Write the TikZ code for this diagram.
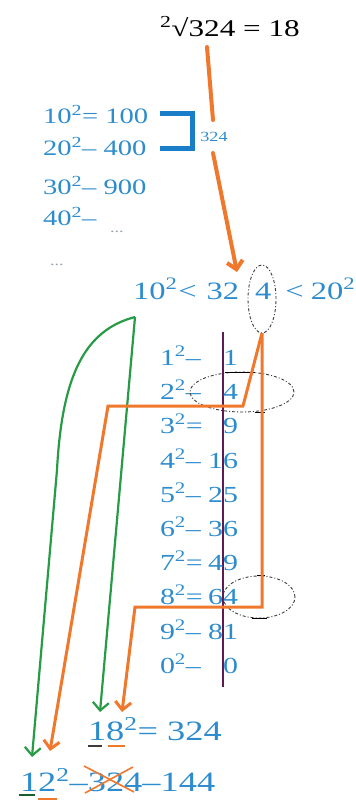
\documentclass[tikz,border=0pt]{standalone}
\usepackage{fontspec}
\setmainfont[FakeStretch=1.3]{Liberation Serif}
\usetikzlibrary{arrows.meta,shapes.geometric}
\definecolor{tblue}{RGB}{45,140,205}
\definecolor{bblue}{RGB}{25,125,200}
\definecolor{orng}{RGB}{240,120,45}
\definecolor{grn}{RGB}{40,155,70}
\definecolor{purp}{RGB}{95,25,85}
\definecolor{dgray}{RGB}{60,60,60}
\definecolor{ltgray}{RGB}{150,160,170}
\begin{document}
\begin{tikzpicture}[x=1pt,y=-1pt,
  every node/.style={inner sep=0pt,outer sep=0pt},
  toptxt/.style={anchor=base west,text=black,font=\fontsize{24}{26}\selectfont},
  lst/.style={anchor=base west,text=tblue,font=\fontsize{22}{24}\selectfont},
  ineqtxt/.style={anchor=base west,text=tblue,font=\fontsize{25}{27}\selectfont},
  tbl/.style={text=tblue,font=\fontsize{23}{25}\selectfont},
  bot/.style={anchor=base west,text=tblue,font=\fontsize{28}{30}\selectfont},
  ell/.style={draw=dgray,ellipse,line width=0.9pt,dash pattern=on 3pt off 2pt on 1pt off 2pt},
  tick/.style={draw=black,line width=1pt},
  ornline/.style={draw=orng,line width=3pt,line cap=round},
  grnline/.style={draw=grn,line width=2.2pt},
  barb/.style={-{Straight Barb[length=8pt,width=16pt]}},
]
\useasboundingbox (0,0) rectangle (356,801);

% top equation
\node[toptxt] (top) at (160,36.5) {\textsuperscript{2}√324 = 18};

% list of squares
\node[lst] (b1) at (43,123) {10\textsuperscript{2}= 100};
\node[lst] (b2) at (43,155) {20\textsuperscript{2}– 400};
\node[lst] (b3) at (43,194) {30\textsuperscript{2}– 900};
\node[lst] (b4) at (43,225) {40\textsuperscript{2}–};
\node[anchor=base west,text=ltgray,font=\fontsize{14}{14}\selectfont] (d1) at (110,232) {...};
\node[anchor=base west,text=ltgray,font=\fontsize{14}{14}\selectfont] (d2) at (50,265) {...};
\draw[draw=bblue,line width=5pt] (160,113) -- (192,113) -- (192,148) -- (160,148);
\node[text=tblue,font=\fontsize{14}{14}\selectfont] (l324) at (214,137) {324};

% top orange arrow
\coordinate (a1) at (207,47);
\coordinate (a2) at (213,120);
\coordinate (a3) at (213,153);
\coordinate (t1) at (237,272);
\draw[ornline,line width=4pt] (a1) -- (a2);
\draw[ornline,line width=4pt,barb] (a3) -- (t1);

% inequality
\node[ineqtxt] (ineq) at (133,299) {10\textsuperscript{2}\hspace{1pt}<\hspace{10pt}32\hspace{16pt}4\hspace{14pt}<\hspace{7pt}20\textsuperscript{2}};
\node[ell,minimum width=28pt,minimum height=68pt] (e4) at (262,299) {};

% table
\draw[draw=purp,line width=1.6pt] (223,332) -- (223,687);
\foreach \n/\op/\v [count=\i from 0] in {1/–/1,2/–/4,3/=/9,4/–/16,5/–/25,6/–/36,7/=/49,8/=/64,9/–/81,0/–/0}{
  \node[tbl,anchor=base west] (L\i) at (160,{365.5+34.2*\i}) {\n\textsuperscript{2}\op};
  \node[tbl,anchor=base east] (R\i) at (238,{365.5+34.2*\i}) {\v};
}
\node[ell,minimum width=104pt,minimum height=40pt] (e2) at (242,392) {};
\node[ell,minimum width=72pt,minimum height=42pt] (e8) at (259,597) {};
\draw[tick] (225,372) -- (255,372);
\draw[tick] (255,412) -- (265,412);
\draw[tick] (257,575) -- (265,575);
\draw[tick] (252,618) -- (267,618);

% bottom results
\node[bot] (r18) at (88,740) {18\textsuperscript{2}= 324};
\node[bot] (r12) at (20,791) {12\textsuperscript{2}–324–144};
\draw[draw=dgray,line width=1.5pt] (88,746) -- (102,746);
\draw[draw=orng,line width=1.8pt] (108,746) -- (125,746);
\draw[draw=grn!60!black,line width=1.5pt] (19,795) -- (35,795);
\draw[draw=orng,line width=2pt] (38,799) -- (57,799);
\draw[draw=orng,line width=1.6pt] (84,766) -- (134,792);
\draw[draw=orng,line width=1.6pt] (85,793) -- (133,767);

% connectors
\coordinate (g0) at (135,317);
\coordinate (gt1) at (32,757);
\coordinate (gt2) at (100,712);
\coordinate (ot1) at (50,751);
\coordinate (ot2) at (122,712);
\draw[grnline,barb] (g0) .. controls (85,330) and (62,375) .. (57,470) -- (gt1);
\draw[grnline,barb] (g0) -- (gt2);
\draw[ornline,barb,line cap=butt] (e4.south) -- (243,406) -- (108,406) -- (ot1);
\draw[ornline,barb,line cap=butt] (e4.south) -- (262,607) -- (135,607) -- (ot2);
\end{tikzpicture}
\end{document}
